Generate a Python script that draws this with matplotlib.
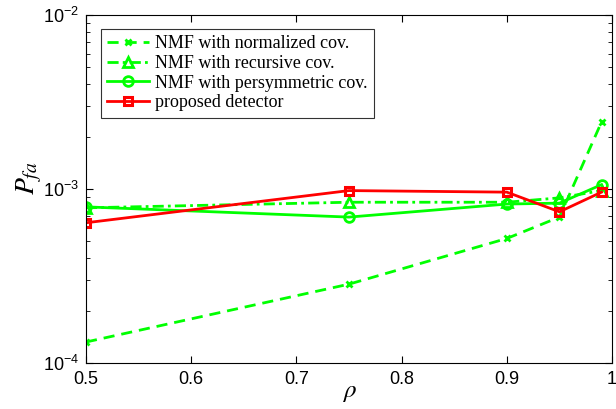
import numpy as np
import matplotlib
matplotlib.use("Agg")
import matplotlib.pyplot as plt

# ── data ──
rho = [0.5, 0.75, 0.9, 0.95, 0.99]
pfa_normalized = [1.32e-4, 2.84e-4, 5.2e-4, 6.9e-4, 2.43e-3]
pfa_recursive = [7.8e-4, 8.4e-4, 8.4e-4, 8.9e-4, 9.8e-4]
pfa_persym = [7.9e-4, 6.9e-4, 8.2e-4, 8.3e-4, 1.06e-3]
pfa_proposed = [6.4e-4, 9.8e-4, 9.6e-4, 7.4e-4, 9.6e-4]

labels = ["NMF with normalized cov.", "NMF with recursive cov.",
          "NMF with persymmetric cov.", "proposed detector"]
xticks = [0.5, 0.6, 0.7, 0.8, 0.9, 1.0]
xticklabels = ["0.5", "0.6", "0.7", "0.8", "0.9", "1"]

plt.rcParams["mathtext.fontset"] = "stix"
plt.rcParams["font.family"] = "Liberation Sans"

fig = plt.figure(figsize=(6.16, 4.09), dpi=100)
ax = fig.add_axes([0.1396, 0.1125, 0.854, 0.8505])

green = "#00FF00"
red = "#FF0000"
ax.plot(rho, pfa_normalized, color=green, lw=2, ls=(0, (4, 2.5)), marker="x",
        ms=5, mew=2, label=labels[0])
ax.plot(rho, pfa_recursive, color=green, lw=2, ls=(0, (4, 1.5, 1, 1.5)), marker="^",
        ms=7, mfc="none", mew=2, label=labels[1])
ax.plot(rho, pfa_persym, color=green, lw=2, ls="-", marker="o",
        ms=7, mfc="none", mew=2, label=labels[2])
ax.plot(rho, pfa_proposed, color=red, lw=2, ls="-", marker="s",
        ms=6, mfc="none", mew=2.2, label=labels[3])

ax.set_yscale("log")
ax.set_ylim(1e-4, 1e-2)
ax.set_xlim(0.5, 1.0)
ax.set_xticks(xticks)
ax.set_xticklabels(xticklabels)
ax.tick_params(which="both", direction="in", top=True, right=True, labelsize=13)
ax.tick_params(which="major", length=5)
ax.tick_params(which="minor", length=3)
ax.tick_params(axis="x", pad=6)
ax.tick_params(axis="y", pad=5)
ax.tick_params(axis="y", which="minor", labelleft=False)
for s in ax.spines.values():
    s.set_linewidth(0.8)

ax.set_xlabel(r"$\rho$", fontsize=18, labelpad=-6)
ax.set_ylabel(r"$P_{fa}$", fontsize=20)
ax.yaxis.set_label_coords(-0.08, 0.53)

leg = ax.legend(loc="upper left", bbox_to_anchor=(0.0285, 0.96),
                prop={"family": "Liberation Serif", "size": 13}, handlelength=2.3,
                handletextpad=0.35, labelspacing=0.15, borderpad=0.35,
                frameon=True, fancybox=False, edgecolor="black", borderaxespad=0)
leg.get_frame().set_linewidth(0.8)

fig.savefig("out.png", dpi=100)
